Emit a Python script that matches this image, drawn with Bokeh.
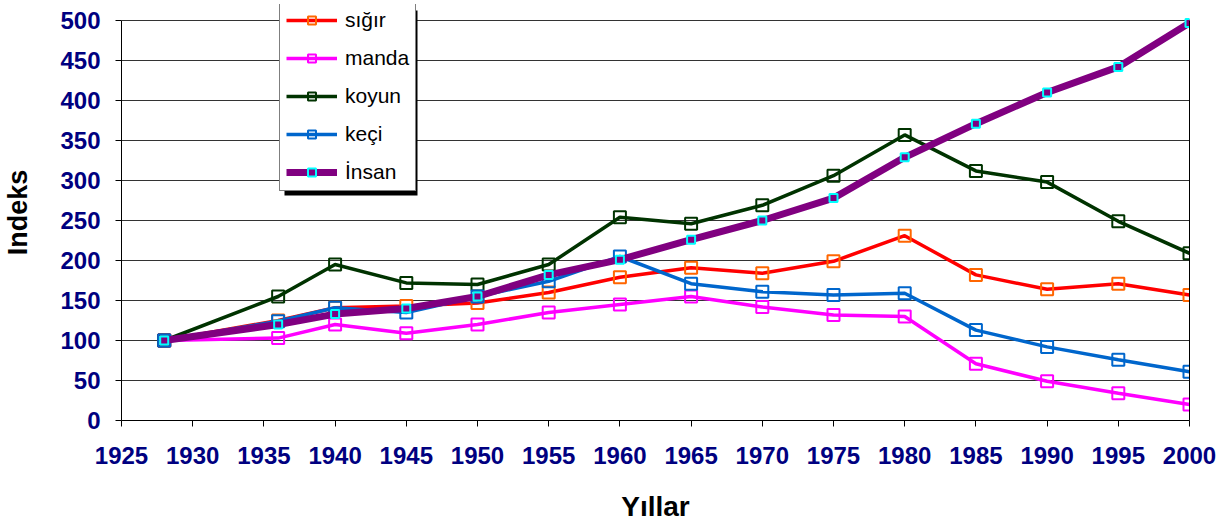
from bokeh.plotting import figure
from bokeh.models import Legend, LegendItem, Range1d, FixedTicker, BoxAnnotation, LinearAxis
from bokeh.embed import file_html
from bokeh.resources import INLINE

years = [1928, 1936, 1940, 1945, 1950, 1955, 1960, 1965, 1970, 1975, 1980, 1985, 1990, 1995, 2000]
sigir = [100, 125, 141, 143, 147, 160, 179, 191, 184, 199, 231, 182, 164, 171, 157]
manda = [100, 103, 120, 109, 120, 135, 145, 155, 142, 132, 130, 71, 49, 34, 20]
koyun = [100, 155, 195, 172, 170, 195, 254, 246, 269, 306, 357, 312, 298, 249, 209]
keci = [100, 124, 141, 135, 155, 174, 205, 171, 161, 157, 159, 113, 92, 76, 61]
insan = [100, 120, 133, 140, 155, 182, 201, 226, 250, 278, 329, 371, 410, 442, 497]

series_names = ["sığır", "manda", "koyun", "keçi", "İnsan"]
x_ticks = list(range(1925, 2001, 5))
y_ticks = list(range(0, 501, 50))

FONT = "Liberation Sans"

p = figure(frame_width=1068, frame_height=416, output_backend="svg", toolbar_location=None,
           x_range=Range1d(1925, 2000), y_range=Range1d(0, 520),
           min_border_left=120, min_border_right=28, min_border_top=4, min_border_bottom=90)

p.background_fill_color = "white"
p.border_fill_color = "white"
p.outline_line_color = None

p.xaxis.ticker = FixedTicker(ticks=x_ticks)
p.yaxis.ticker = FixedTicker(ticks=y_ticks)
p.yaxis.bounds = (0, 500)
p.xgrid.grid_line_color = None
p.ygrid.grid_line_color = "#333333"
p.ygrid.grid_line_width = 1

right_axis = LinearAxis(ticker=FixedTicker(ticks=[]), bounds=(0, 500),
                        axis_line_color="black", axis_line_width=1,
                        major_tick_line_color=None, minor_tick_line_color=None)
p.add_layout(right_axis, "right")

for ax in (p.xaxis[0], p.yaxis[0]):
    ax.axis_line_color = "black"
    ax.axis_line_width = 1
    ax.major_tick_line_color = "black"
    ax.major_tick_out = 6
    ax.major_tick_in = 0
    ax.minor_tick_line_color = None
    ax.major_label_text_font = FONT
    ax.major_label_text_font_style = "bold"
    ax.major_label_text_font_size = "24px"
    ax.major_label_text_color = "#000080"
    ax.axis_label_text_font = FONT
    ax.axis_label_text_font_style = "bold"
    ax.axis_label_text_color = "black"

p.xaxis[0].major_label_standoff = 20
p.yaxis[0].major_label_standoff = 15
p.xaxis[0].axis_label = "Yıllar"
p.yaxis[0].axis_label = "Indeks"
p.xaxis[0].axis_label_text_font_size = "28px"
p.yaxis[0].axis_label_text_font_size = "27px"
p.xaxis[0].axis_label_standoff = 24
p.yaxis[0].axis_label_standoff = 24

styles = [
    (sigir, "#FF0000", 3.5, "#FF6600", 12, None, 2),
    (manda, "#FF00FF", 3.5, "#FF00FF", 12, None, 2),
    (koyun, "#003300", 3.5, "#003300", 12, None, 2),
    (keci, "#0066CC", 3.5, "#0066CC", 12, None, 2),
    (insan, "#800080", 7, "#00FFFF", 8, "#800080", 2),
]

items = []
for name, (vals, lc, lw, mc, ms, mf, mw) in zip(series_names, styles):
    r1 = p.line(years, vals, line_color=lc, line_width=lw)
    if mf is None:
        r2 = p.scatter(years, vals, marker="square", size=ms, line_color=mc,
                       line_width=mw, fill_alpha=0)
    else:
        r2 = p.scatter(years, vals, marker="square", size=ms, line_color=mc,
                       line_width=mw, fill_color=mf)
    items.append(LegendItem(label=name, renderers=[r1, r2]))

# drop shadow behind the legend box (frame-relative screen units, y up)
shadow = BoxAnnotation(left=163, right=296, top=410, bottom=225,
                       left_units="screen", right_units="screen",
                       top_units="screen", bottom_units="screen",
                       fill_color="black", fill_alpha=1, line_color=None)
p.add_layout(shadow)

legend = Legend(items=items, location=(158, 229), orientation="vertical",
                glyph_width=51, glyph_height=20, label_height=20, spacing=14,
                padding=6, margin=0, label_standoff=8,
                label_text_font=FONT, label_text_font_size="21px",
                label_text_color="black",
                border_line_color="black", border_line_width=1,
                background_fill_color="white", background_fill_alpha=1)
p.add_layout(legend, "center")

open("out.html", "w").write(file_html(p, INLINE))
